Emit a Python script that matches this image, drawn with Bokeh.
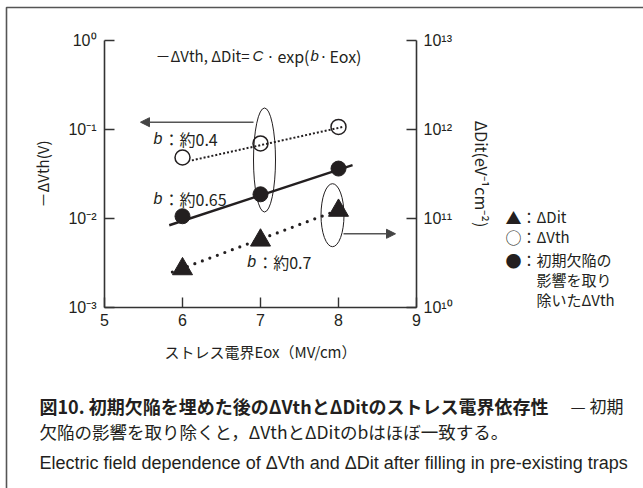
from bokeh.plotting import figure
from bokeh.models import (Range1d, LinearAxis, LogAxis, LogScale, FixedTicker, Label,
                          Arrow, NormalHead)
from bokeh.embed import file_html
from bokeh.resources import INLINE

# ---------------- data ----------------
eox = [6, 7, 8]                                   # stress field Eox (MV/cm)
dvth = [0.0485, 0.0697, 0.107]                    # -ΔVth (V), open circles
dvth_corr = [0.0106, 0.0187, 0.0364]              # -ΔVth after removing pre-existing traps
ddit = [2.71e10, 5.69e10, 1.23e11]                # ΔDit (eV^-1 cm^-2), triangles

fit_vth_x = [6.12, 8.06]
fit_vth_y = [0.045, 0.107]
fit_corr_x = [5.83, 8.18]
fit_corr_y = [0.0084, 0.0397]
fit_dit_x = [5.87, 7.95]
fit_dit_y = [2.5e10, 1.2e11]

x_ticks = [5, 6, 7, 8, 9]
vth_ticks = [1.0, 0.1, 0.01, 0.001]
vth_tick_labels = ["10⁰", "10⁻¹", "10⁻²", "10⁻³"]
dit_ticks = [1e13, 1e12, 1e11, 1e10]
dit_tick_labels = ["10¹³", "10¹²", "10¹¹", "10¹⁰"]

x_title = "ストレス電界Eox（MV/cm）"
y_title = "－ΔVth(V)"
y2_title = "ΔDit(eV⁻¹cm⁻²)"

legend_rows = [("▲", "：ΔDit"), ("○", "：ΔVth"), ("●", "：初期欠陥の")]
legend_extra = ["影響を取り", "除いたΔVth"]

caption_bold = "図10. 初期欠陥を埋めた後のΔVthとΔDitのストレス電界依存性"
caption_tail = "— 初期"
caption_line2 = "欠陥の影響を取り除くと，ΔVthとΔDitのbはほぼ一致する。"
caption_line3 = "Electric field dependence of ΔVth and ΔDit after filling in pre-existing traps"

INK = "#231f20"
JP = "Noto Sans CJK JP"
LAT = "Liberation Sans"

# ---------------- geometry ----------------
W, H = 643, 488
FL, FR, FT, FB = 104, 416, 40, 307   # chart region (canvas px): x 5..9, y 1e-3..1
X0, X1, DEC = 5, 9, 3
PPX = (FR - FL) / (X1 - X0)
PPD = (FB - FT) / DEC


def xd(px):  # canvas px -> data x
    return X0 + (px - FL) / PPX


def yv(py):  # canvas px -> ΔVth data
    return 10 ** (-(py - FT) / PPD)


def yd(py):  # canvas px -> ΔDit data
    return yv(py) * 1e13


p = figure(width=W, height=H, output_backend="svg", toolbar_location=None,
           x_range=Range1d(xd(0), xd(W)), y_range=Range1d(yv(H), yv(0)),
           y_axis_type="log", x_axis_location=None, y_axis_location=None,
           min_border=0, min_border_left=0, min_border_right=0,
           min_border_top=0, min_border_bottom=0)
p.extra_y_ranges = {"dit": Range1d(yd(H), yd(0))}
p.extra_y_scales = {"dit": LogScale()}
p.grid.visible = False
p.outline_line_color = None
p.background_fill_color = "white"
p.border_fill_color = "white"


# ---------------- axes ----------------
def style_axis(ax):
    ax.axis_line_color = "#333333"
    ax.axis_line_width = 1.6
    ax.major_tick_line_color = "#333333"
    ax.major_tick_line_width = 1.4
    ax.major_tick_in = 10
    ax.major_tick_out = 0
    ax.minor_tick_line_color = None
    ax.major_label_text_font = LAT
    ax.major_label_text_font_size = "16px"
    ax.major_label_text_color = INK
    ax.axis_label_text_font = JP
    ax.axis_label_text_font_size = "15px"
    ax.axis_label_text_font_style = "normal"
    ax.axis_label_text_color = INK


xa = LinearAxis(fixed_location=1e-3, bounds=(X0, X1), ticker=FixedTicker(ticks=x_ticks),
                axis_label=x_title)
style_axis(xa)
xa.major_label_standoff = 6
xa.axis_label_standoff = 12
p.add_layout(xa, "below")

ya = LogAxis(fixed_location=X0, bounds=(1e-3, 1), ticker=FixedTicker(ticks=vth_ticks),
             major_label_overrides=dict(zip(vth_ticks, vth_tick_labels)),
             axis_label=y_title)
style_axis(ya)
ya.major_label_standoff = 8
ya.axis_label_standoff = 12
p.add_layout(ya, "left")

y2 = LogAxis(y_range_name="dit", fixed_location=X1, bounds=(1e10, 1e13),
             ticker=FixedTicker(ticks=dit_ticks),
             major_label_overrides=dict(zip(dit_ticks, dit_tick_labels)),
             axis_label=y2_title)
style_axis(y2)
y2.axis_label_text_font_size = "16px"
y2.major_label_standoff = 7
y2.axis_label_standoff = 14
p.add_layout(y2, "right")

# ---------------- fit lines ----------------
p.line(fit_vth_x, fit_vth_y, line_color=INK, line_width=2, line_dash="2 2")
p.line(fit_corr_x, fit_corr_y, line_color=INK, line_width=2.4)
p.line(fit_dit_x, fit_dit_y, line_color=INK, line_width=3.2, line_dash="0 8",
       line_cap="round", y_range_name="dit")

# ---------------- markers ----------------
p.scatter(eox, ddit, marker="triangle", size=20, fill_color=INK, line_color=INK,
          y_range_name="dit")
p.scatter(eox, dvth, marker="circle", size=15, fill_color=None, line_color=INK,
          line_width=1.5)
p.scatter(eox, dvth_corr, marker="circle", size=15, fill_color=INK, line_color=INK)

# ---------------- ellipses and arrows ----------------
p.ellipse(x=[xd(264)], y=[yv(159.5)], width=22, height=104, width_units="screen",
          height_units="screen", fill_color=None, line_color=INK, line_width=1)
p.ellipse(x=[xd(332)], y=[yd(214.7)], width=23, height=63, width_units="screen",
          height_units="screen", fill_color=None, line_color=INK, line_width=1,
          y_range_name="dit")

p.add_layout(Arrow(end=NormalHead(size=9, fill_color="#444444", line_color="#444444"),
                   x_start=xd(253), y_start=yv(121.7), x_end=xd(140), y_end=yv(121.7),
                   line_color="#555555", line_width=1.5))
p.add_layout(Arrow(end=NormalHead(size=9, fill_color="#444444", line_color="#444444"),
                   x_start=xd(343), y_start=yd(233.3), x_end=xd(395), y_end=yd(233.3),
                   line_color="#555555", line_width=1.5, y_range_name="dit"))

# ---------------- page rules (top and left) ----------------
p.line([xd(6), xd(6), xd(W + 5)], [yv(H + 5), yv(7), yv(7)], line_color="#555555",
       line_width=1.6)


# ---------------- texts ----------------
def lab(text, px, py, size="15px", font=JP, style="normal", align="left"):
    p.add_layout(Label(x=xd(px), y=yv(py), text=text,
                       text_font=font, text_font_size=size, text_font_style=style,
                       text_color=INK, text_align=align, text_baseline="middle"))


# formula:  －ΔVth, ΔDit = C · exp(b · Eox)
lab("－ΔVth, ΔDit=", 155, 55)
lab("C", 252, 55, font=LAT, style="italic")
lab("·", 270, 55, align="center")
lab("exp(", 309, 55, size="16px", align="right")
lab("b", 310, 55, font=LAT, style="italic")
lab("·", 323, 55, align="center")
lab("Eox)", 329, 55, size="16px")

for txt, bx, py in [("：約0.4", 153, 138), ("：約0.65", 153, 198.3), ("：約0.7", 246.7, 261)]:
    lab("b", bx, py, size="16px", font=LAT, style="italic")
    lab(txt, bx + 10, py, size="16px")

# legend
for (mk, txt), py in zip(legend_rows, [216, 236, 259]):
    lab(mk, 505, py, size="16px")
    lab(txt, 521, py, size="15px")
for txt, py in zip(legend_extra, [279, 299]):
    lab(txt, 536, py, size="15px")

# caption
lab(caption_bold, 39, 405, size="18px", style="bold")
lab(caption_tail, 623, 405, size="17px", align="right")
lab(caption_line2, 39, 431, size="17.5px")
lab(caption_line3, 39, 462, size="18px", font=LAT)

open("out.html", "w").write(file_html(p, INLINE))
